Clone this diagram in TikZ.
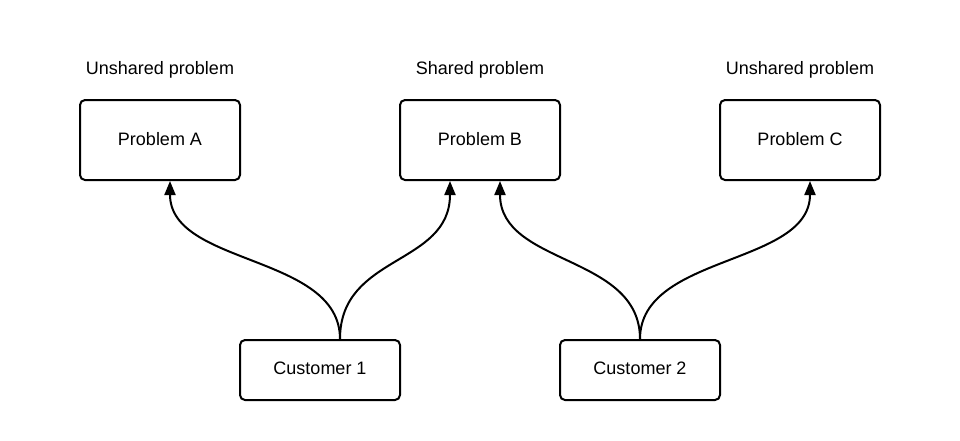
\documentclass[tikz,border=0pt]{standalone}
\usepackage{fontspec}
\setmainfont{Liberation Sans}
\usetikzlibrary{arrows.meta}
\begin{document}
\begin{tikzpicture}[x=1pt,y=-1pt,
  box/.style={draw=black,line width=2pt,rounded corners=5pt,minimum width=160pt,minimum height=80pt,inner sep=0pt,text height=13pt,text depth=3pt,font=\fontsize{18}{21}\selectfont},
  cbox/.style={box,minimum height=60pt,text height=12pt,text depth=4pt},
  lbl/.style={font=\fontsize{18}{21}\selectfont,inner sep=0pt,anchor=base},
  conn/.style={line width=2pt,-{Triangle[length=14pt,width=11pt]}}]
\useasboundingbox (0,0) rectangle (960,440);
\node[box] (pa) at (160,140) {Problem A};
\node[box] (pb) at (480,140) {Problem B};
\node[box] (pc) at (800,140) {Problem C};
\node[cbox] (c1) at (320,370) {Customer 1};
\node[cbox] (c2) at (640,370) {Customer 2};
\node[lbl] (la) at (160,74) {Unshared problem};
\node[lbl] (lb) at (480,74) {Shared problem};
\node[lbl] (lc) at (800,74) {Unshared problem};
\coordinate (c1t) at ([xshift=20pt]c1.north);
\coordinate (c2t) at ([xshift=0pt]c2.north);
\coordinate (pat) at ([xshift=10pt]pa.south);
\coordinate (pbl) at ([xshift=-30pt]pb.south);
\coordinate (pbr) at ([xshift=20pt]pb.south);
\coordinate (pct) at ([xshift=10pt]pc.south);
\draw[conn] (c1t) .. controls +(0,-85) and +(0,85) .. (pat);
\draw[conn] (c1t) .. controls +(0,-85) and +(0,85) .. (pbl);
\draw[conn] (c2t) .. controls +(0,-85) and +(0,85) .. (pbr);
\draw[conn] (c2t) .. controls +(0,-85) and +(0,85) .. (pct);
\end{tikzpicture}
\end{document}
